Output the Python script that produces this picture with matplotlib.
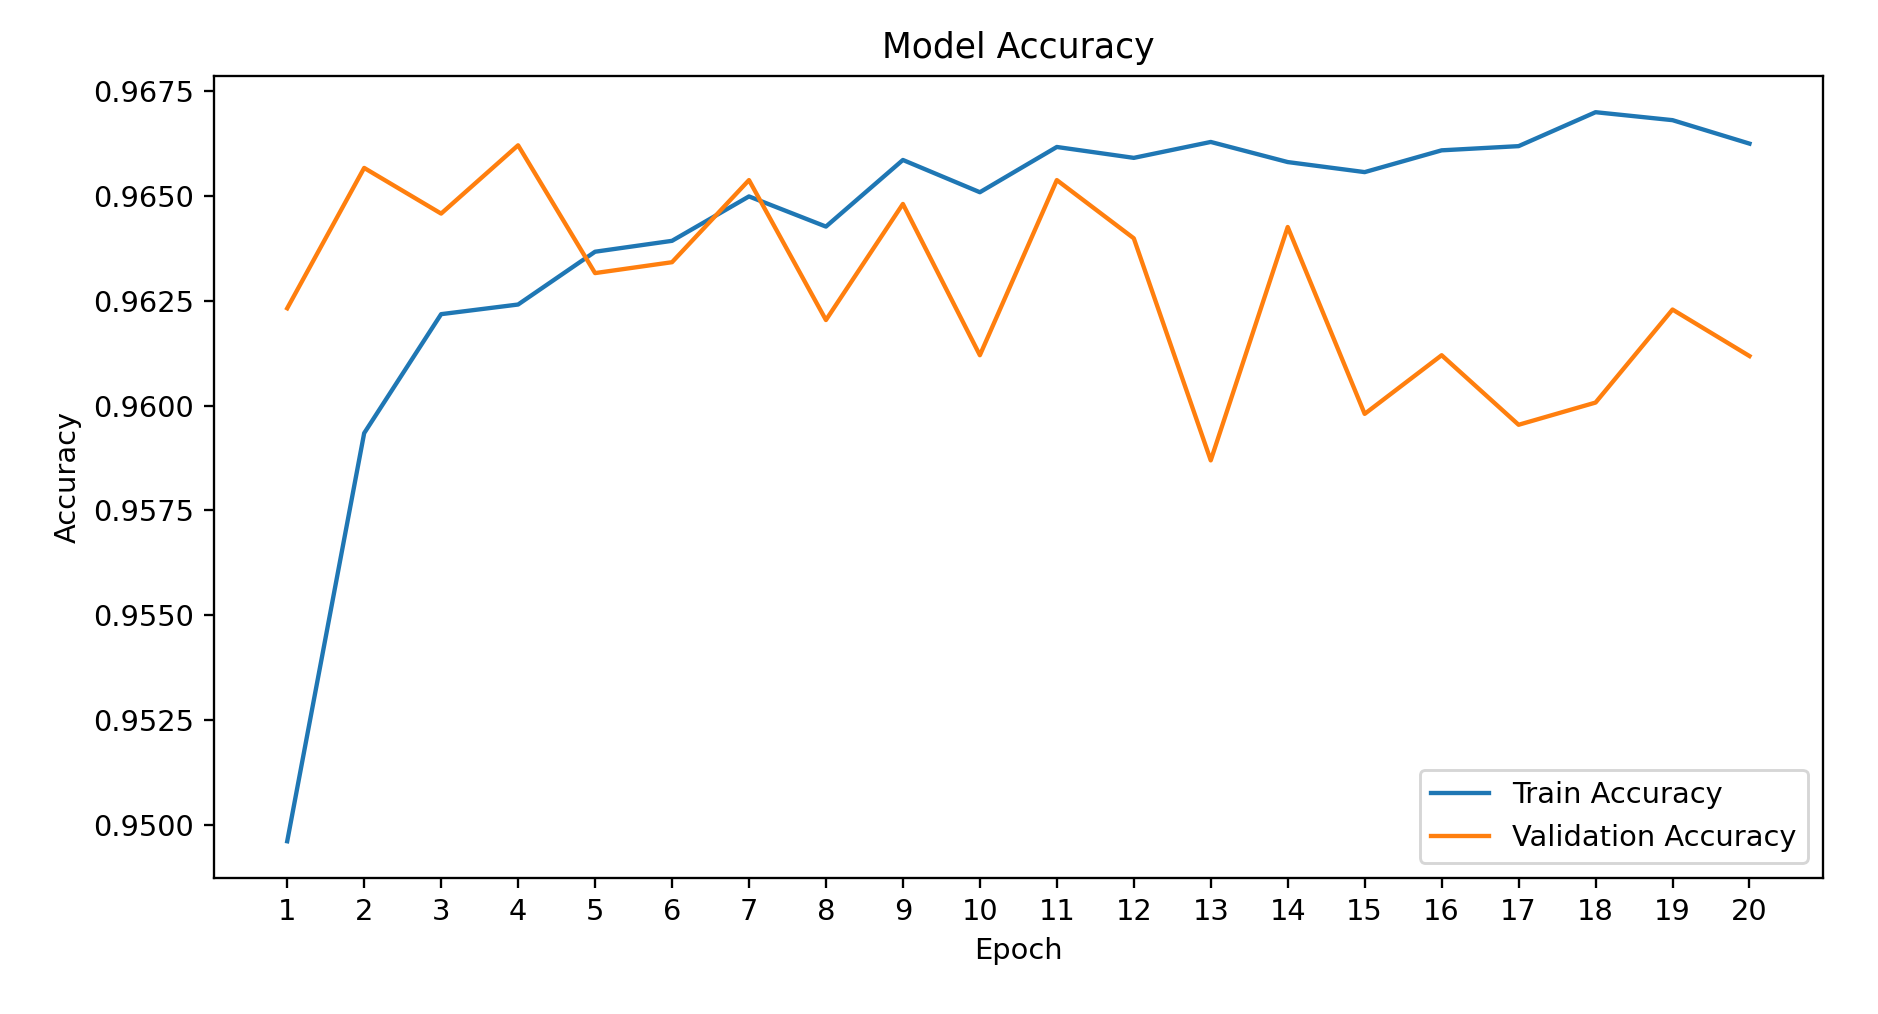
import matplotlib
matplotlib.use('Agg')
import matplotlib.pyplot as plt
import numpy as np

epochs = list(range(1, 21))
train_acc = [0.9496, 0.95934, 0.96218, 0.96241, 0.96367, 0.96393, 0.96499, 0.96427,
             0.96586, 0.96509, 0.96617, 0.96591, 0.96629, 0.96581, 0.96557, 0.96609,
             0.96619, 0.96700, 0.96681, 0.96625]
val_acc = [0.96232, 0.96567, 0.96458, 0.96621, 0.96316, 0.96342, 0.96538, 0.96204,
           0.96481, 0.96120, 0.96538, 0.96399, 0.95869, 0.96426, 0.95980, 0.96120,
           0.95954, 0.96007, 0.96229, 0.96118]

dpi = 208
fig = plt.figure(figsize=(1878 / dpi, 1014 / dpi), dpi=dpi)
ax = fig.add_axes([0.1140, 0.1344, 0.8565, 0.7909])
ax.plot(epochs, train_acc, label='Train Accuracy')
ax.plot(epochs, val_acc, label='Validation Accuracy')
ax.set_title('Model Accuracy')
ax.set_xlabel('Epoch')
ax.set_ylabel('Accuracy')
ax.set_xticks(epochs)
ax.legend(loc='lower right')
fig.savefig('out.png', dpi=dpi)
